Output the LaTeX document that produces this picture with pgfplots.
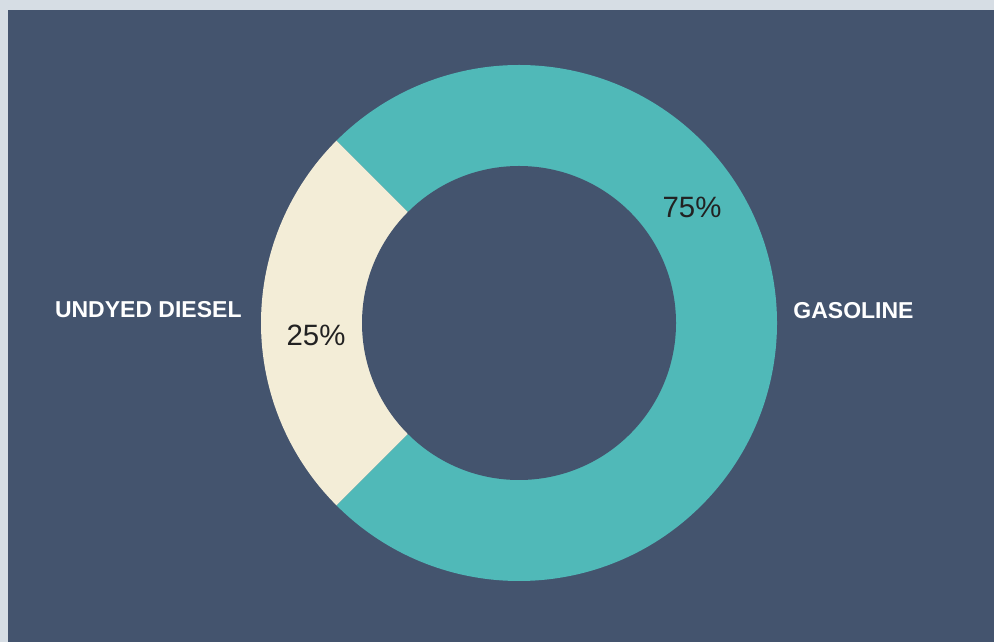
\documentclass[border=0pt]{standalone}
\usepackage{pgfplots}
\pgfplotsset{compat=1.18}
\usepackage{pgfplotstable}
\usepackage{fontspec}
\setmainfont{Liberation Sans}

\definecolor{strip}{HTML}{D6DDE4}
\definecolor{panel}{HTML}{44546E}
\definecolor{gasoline}{HTML}{50B9B8}
\definecolor{diesel}{HTML}{F3EDD7}
\definecolor{pct}{HTML}{222222}

% share of each fuel (percent)
\pgfplotstableread{
fuel     value
diesel   25
gasoline 75
}\sharetable

\pgfplotstablegetelem{0}{value}\of\sharetable
\pgfmathtruncatemacro{\dieselval}{\pgfplotsretval}
\pgfplotstablegetelem{1}{value}\of\sharetable
\pgfmathtruncatemacro{\gasval}{\pgfplotsretval}

% diesel slice is centred on the left (180 deg)
\pgfmathsetmacro{\dstart}{180-1.8*\dieselval}
\pgfmathsetmacro{\dend}{\dstart+3.6*\dieselval}
\pgfmathsetmacro{\gend}{\dend+3.6*\gasval}

\begin{document}
\begin{tikzpicture}
\begin{axis}[
    x=0.5pt, y=0.5pt,
    xmin=0, xmax=994, ymin=0, ymax=642,
    hide axis,
    clip=false,
]
% background
\fill[strip] (axis cs:0,0) rectangle (axis cs:994,642);
\fill[panel] (axis cs:8,0) rectangle (axis cs:994,632);

% donut
\fill[diesel] (axis cs:519,319) -- ++(\dstart:129pt)
    arc[start angle=\dstart, end angle=\dend, radius=129pt] -- cycle;
\fill[gasoline] (axis cs:519,319) -- ++(\dend:129pt)
    arc[start angle=\dend, end angle=\gend, radius=129pt] -- cycle;
\fill[panel] (axis cs:519,319) circle[radius=78.5pt];

% labels
\node[anchor=east, inner sep=0pt, text=white, font=\fontsize{11.5}{13}\selectfont\bfseries]
    at (axis cs:242,332) {UNDYED DIESEL};
\node[anchor=west, inner sep=0pt, text=white, font=\fontsize{11.5}{13}\selectfont\bfseries]
    at (axis cs:793,331) {GASOLINE};
\node[inner sep=0pt, text=pct, font=\fontsize{14.7}{16}\selectfont]
    at (axis cs:316,307) {\dieselval\%};
\node[inner sep=0pt, text=pct, font=\fontsize{14.7}{16}\selectfont]
    at (axis cs:692,435) {\gasval\%};
\end{axis}
\end{tikzpicture}
\end{document}
